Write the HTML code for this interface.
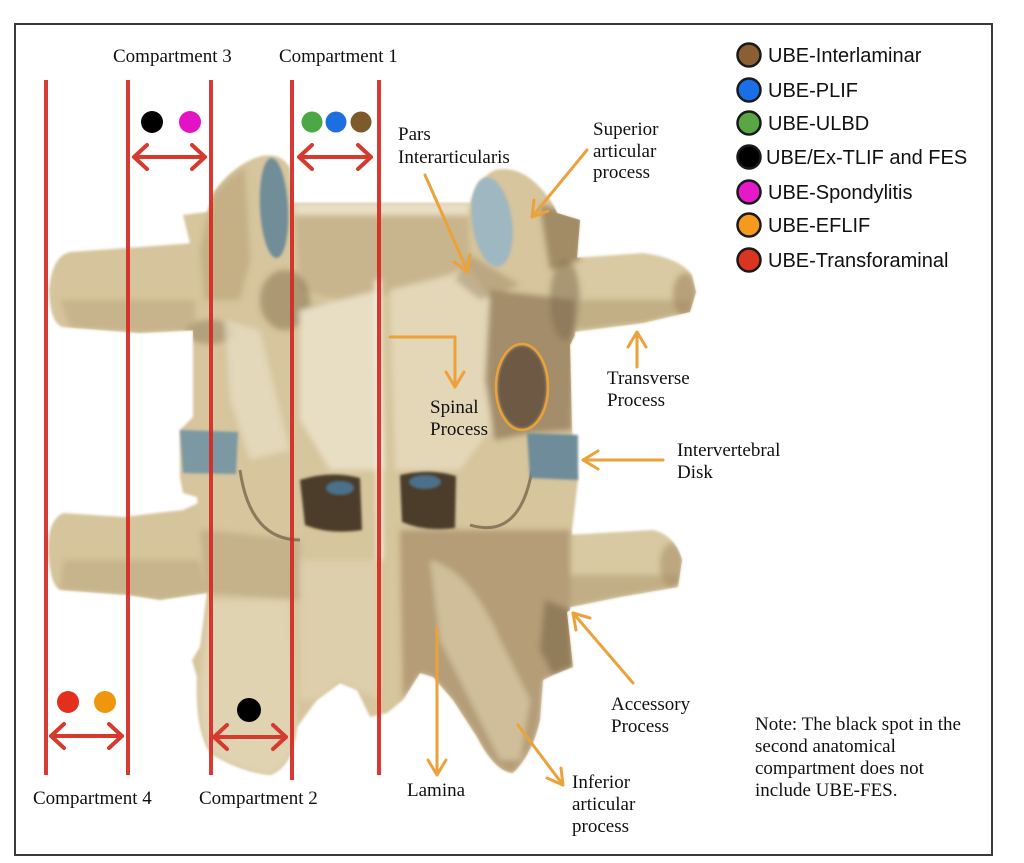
<!DOCTYPE html>
<html><head><meta charset="utf-8"><style>
html,body{margin:0;padding:0;background:#fff;}
svg{display:block;}
.s{font-family:"Liberation Serif",serif;font-size:19px;fill:#111;}
.l{font-family:"Liberation Sans",sans-serif;font-size:20px;fill:#111;}
</style></head><body>
<svg width="1024" height="863" viewBox="0 0 1024 863" xmlns="http://www.w3.org/2000/svg">
<defs>
<filter id="b3" x="-20%" y="-20%" width="140%" height="140%"><feGaussianBlur stdDeviation="3"/></filter>
<filter id="b1" x="-20%" y="-20%" width="140%" height="140%"><feGaussianBlur stdDeviation="1.2"/></filter>
<clipPath id="bone">
<path d="M190,243 L183,215 L207,212 L213,193 Q232,166 258,157 Q280,151 290,168 L293,203 L470,203 Q478,178 495,170 Q515,166 532,180 Q550,195 557,213 L580,220 L577,258 L575,335 L570,345 L572,430 L578,480 L572,530 L570,610 L567,612 L573,667 L553,675 L543,680 L540,720 Q532,755 513,773 Q495,772 477,737 L453,700 L433,677 L420,673 L403,700 L387,713 L370,717 L357,690 L340,683 L317,700 L297,727 Q293,767 270,775 Q240,772 210,753 Q195,730 197,677 L192,660 L200,647 L207,593 L197,497 L183,493 L180,477 L180,430 L193,417 L193,330 Z"/>
<path d="M195,243 L140,247 L70,252 Q52,256 49,290 Q50,322 62,327 L140,333 L198,330 Z"/>
<path d="M573,258 L643,253 Q680,258 692,275 L696,292 L690,312 L643,323 L573,332 Z"/>
<path d="M205,500 L183,510 L123,517 L63,513 Q48,520 48,550 Q50,585 60,590 L127,595 L160,600 L207,593 Z"/>
<path d="M566,535 L653,530 Q675,535 682,560 L678,587 L620,597 L566,608 Z"/>
</clipPath>
</defs>
<rect x="0" y="0" width="1024" height="863" fill="#fff"/>
<rect x="15" y="24" width="977" height="831" fill="#fff" stroke="#3a3a3a" stroke-width="2"/>

<g filter="url(#b1)">
<!-- transverse processes -->
<path d="M195,243 L140,247 L70,252 Q52,256 49,290 Q50,322 62,327 L140,333 L198,330 Z" fill="#d6c59c"/>
<path d="M573,258 L643,253 Q680,258 692,275 L696,292 L690,312 L643,323 L573,332 Z" fill="#d9caa3"/>
<path d="M205,500 L183,510 L123,517 L63,513 Q48,520 48,550 Q50,585 60,590 L127,595 L160,600 L207,593 Z" fill="#d6c59c"/>
<path d="M566,535 L653,530 Q675,535 682,560 L678,587 L620,597 L566,608 Z" fill="#d8c9a2"/>
<!-- main silhouette -->
<path d="M190,243 L183,215 L207,212 L213,193 Q232,166 258,157 Q280,151 290,168 L293,203 L470,203 Q478,178 495,170 Q515,166 532,180 Q550,195 557,213 L580,220 L577,258 L575,335 L570,345 L572,430 L578,480 L572,530 L570,610 L567,612 L573,667 L553,675 L543,680 L540,720 Q532,755 513,773 Q495,772 477,737 L453,700 L433,677 L420,673 L403,700 L387,713 L370,717 L357,690 L340,683 L317,700 L297,727 Q293,767 270,775 Q240,772 210,753 Q195,730 197,677 L192,660 L200,647 L207,593 L197,497 L183,493 L180,477 L180,430 L193,417 L193,330 Z" fill="#d6c59d"/>
</g>

<!-- shading (blurred, clipped to bone) -->
<g clip-path="url(#bone)">
<g filter="url(#b3)">
<path d="M293,203 L470,203 L468,215 L295,215 Z" fill="#e8dfc6"/>
<path d="M295,215 L468,215 L470,260 L430,290 L340,300 L300,290 Z" fill="#c5b089" opacity=".8"/>
<path d="M300,305 L370,300 L372,325 L300,325 Z" fill="#8f7a56" opacity=".45"/>
<path d="M213,195 Q230,175 245,168 L250,260 L240,300 L205,300 L200,250 Z" fill="#b9a277" opacity=".6"/>
<ellipse cx="285" cy="300" rx="25" ry="30" fill="#8a7452" opacity=".55"/>
<ellipse cx="210" cy="332" rx="25" ry="12" fill="#8a7452" opacity=".45"/>
<path d="M300,310 L380,290 L385,470 L330,470 L300,420 Z" fill="#e8dec4"/>
<path d="M225,320 L260,330 L290,450 L250,460 L230,400 Z" fill="#e6dcc0" opacity=".8"/>
<path d="M390,290 L470,270 L490,300 L490,430 L460,470 L395,470 Z" fill="#e3d7b8"/>
<path d="M490,290 L575,300 L572,430 L530,433 L495,440 L485,380 Z" fill="#9a8362" opacity=".85"/>
<path d="M540,205 L585,215 L580,260 L550,270 Z" fill="#8a7350" opacity=".7"/>
<path d="M470,255 L520,285 L480,300 L455,280 Z" fill="#9f8a66" opacity=".5"/>
<ellipse cx="565" cy="300" rx="15" ry="40" fill="#7e6a4c" opacity=".5"/>
<path d="M60,300 L195,300 L195,330 L140,333 L70,328 Z" fill="#b9a47c" opacity=".5"/>
<path d="M580,300 L690,300 L690,312 L643,323 L577,330 Z" fill="#b39c73" opacity=".6"/>
<ellipse cx="685" cy="295" rx="12" ry="22" fill="#a08660" opacity=".6"/>
<path d="M63,560 L200,560 L207,593 L160,600 L127,595 L60,590 Z" fill="#b9a47c" opacity=".5"/>
<path d="M570,575 L680,575 L678,587 L620,597 L570,608 Z" fill="#b39c73" opacity=".6"/>
<ellipse cx="672" cy="565" rx="12" ry="22" fill="#a08660" opacity=".5"/>
<path d="M200,530 L300,540 L300,600 L207,593 Z" fill="#b49e78" opacity=".5"/>
<path d="M400,530 L570,530 L570,610 L573,667 L543,680 L540,720 Q532,755 513,773 Q495,772 477,737 L453,700 L433,677 L420,673 L403,700 Z" fill="#a88f6b" opacity=".75"/>
<path d="M430,560 Q470,570 500,640 L530,700 L520,760 L500,760 L470,700 L440,640 Z" fill="#d6c7a1" opacity=".8"/>
<path d="M545,600 L570,610 L573,667 L553,675 L540,650 Z" fill="#8a7453" opacity=".8"/>
<path d="M210,600 L290,600 L297,727 Q293,767 270,775 Q240,772 210,753 Q197,730 200,680 Z" fill="#e2d6b6" opacity=".8"/>
<path d="M300,560 L380,560 L380,700 L340,683 L317,700 L300,700 Z" fill="#e0d3b0" opacity=".7"/>
<path d="M378,280 L380,560" stroke="#f2ecdc" stroke-width="6" fill="none"/>
</g>
<path d="M300,480 Q330,470 360,478 L362,530 Q330,535 305,525 Z" fill="#4c3c2a" filter="url(#b1)"/>
<path d="M400,475 Q430,468 456,476 L455,528 Q425,532 402,522 Z" fill="#4c3c2a" filter="url(#b1)"/>
<ellipse cx="340" cy="488" rx="14" ry="7" fill="#4b6f8c" filter="url(#b1)"/>
<ellipse cx="425" cy="482" rx="16" ry="7" fill="#4b6f8c" filter="url(#b1)"/>
<path d="M240,470 Q250,540 300,540" fill="none" stroke="#6e5a40" stroke-width="3" opacity=".7"/>
<path d="M470,525 Q520,540 532,470" fill="none" stroke="#6e5a40" stroke-width="3" opacity=".7"/>
<ellipse cx="522" cy="387" rx="24" ry="41" fill="#5e4d3b" opacity=".8" filter="url(#b1)"/>
</g>

<!-- facets and disks -->
<ellipse cx="274" cy="208" rx="14" ry="50" fill="#6f8d98" transform="rotate(-3 274 208)" filter="url(#b1)"/>
<ellipse cx="492" cy="222" rx="20" ry="45" fill="#9fb7c0" transform="rotate(-8 492 222)" filter="url(#b1)"/>
<path d="M180,430 L238,432 L236,474 L183,473 Z" fill="#7c98a3" filter="url(#b1)"/>
<path d="M527,433 L578,435 L578,480 L530,478 Z" fill="#6e8c99" filter="url(#b1)"/>

<!-- red compartment lines -->
<g stroke="#d42a24" stroke-width="4" opacity=".92" fill="none">
<line x1="46" y1="80" x2="46" y2="775"/>
<line x1="128" y1="80" x2="128" y2="775"/>
<line x1="211" y1="80" x2="211" y2="775"/>
<line x1="292" y1="80" x2="292" y2="780"/>
<line x1="379" y1="80" x2="379" y2="775"/>
</g>
<g stroke="#d63a2f" stroke-width="4" fill="none" stroke-linecap="round" stroke-linejoin="round">
<path d="M134,157 L205,157 M147,145 L134,157 L147,169 M192,145 L205,157 L192,169"/>
<path d="M299,157 L371,157 M312,145 L299,157 L312,169 M358,145 L371,157 L358,169"/>
<path d="M51,736 L122,736 M64,724 L51,736 L64,748 M109,724 L122,736 L109,748"/>
<path d="M214,737 L286,737 M227,725 L214,737 L227,749 M273,725 L286,737 L273,749"/>
</g>

<!-- dots -->
<circle cx="152" cy="122" r="11" fill="#000"/>
<circle cx="190" cy="122" r="11" fill="#e312c4"/>
<circle cx="312" cy="122" r="10.5" fill="#4ca844"/>
<circle cx="336" cy="122" r="10.5" fill="#1d6fe0"/>
<circle cx="361" cy="122" r="10.5" fill="#7d5a2a"/>
<circle cx="68" cy="702" r="11" fill="#e2301c"/>
<circle cx="105" cy="702" r="11" fill="#f0960e"/>
<circle cx="249" cy="710" r="12" fill="#000"/>

<!-- orange arrows -->
<g stroke="#eba23a" stroke-width="3" fill="none" stroke-linecap="round" stroke-linejoin="round">
<path d="M425,175 L468,272 M454,262 L468,272 L470,255"/>
<path d="M587,150 L532,217 M534,200 L532,217 L548,211"/>
<path d="M390,337 L455,337 L455,387 M446,372 L455,387 L464,372"/>
<path d="M637,367 L637,332 M628,347 L637,332 L646,347"/>
<path d="M663,460 L583,460 M598,451 L583,460 L598,469"/>
<path d="M633,683 L573,613 M590,618 L573,613 L576,630"/>
<path d="M437,628 L437,775 M428,760 L437,775 L446,760"/>
<path d="M518,725 L563,785 M547,778 L563,785 L561,768"/>
<ellipse cx="522" cy="387" rx="26" ry="43" stroke-width="2.5"/>
</g>

<!-- serif labels -->
<text class="s" x="113" y="62">Compartment 3</text>
<text class="s" x="279" y="62">Compartment 1</text>
<text class="s" x="33" y="804">Compartment 4</text>
<text class="s" x="199" y="804">Compartment 2</text>
<text class="s" x="407" y="796">Lamina</text>
<text class="s" x="398" y="140">Pars</text>
<text class="s" x="398" y="163">Interarticularis</text>
<text class="s" x="593" y="135">Superior</text>
<text class="s" x="593" y="157">articular</text>
<text class="s" x="593" y="178">process</text>
<text class="s" x="607" y="384">Transverse</text>
<text class="s" x="607" y="406">Process</text>
<text class="s" x="430" y="413">Spinal</text>
<text class="s" x="430" y="435">Process</text>
<text class="s" x="677" y="456">Intervertebral</text>
<text class="s" x="677" y="478">Disk</text>
<text class="s" x="611" y="710">Accessory</text>
<text class="s" x="611" y="732">Process</text>
<text class="s" x="572" y="788">Inferior</text>
<text class="s" x="572" y="810">articular</text>
<text class="s" x="572" y="832">process</text>
<text class="s" x="755" y="730">Note: The black spot in the</text>
<text class="s" x="755" y="752">second anatomical</text>
<text class="s" x="755" y="774">compartment does not</text>
<text class="s" x="755" y="796">include UBE-FES.</text>

<!-- legend -->
<g stroke="#1a1a1a" stroke-width="2.5">
<circle cx="749" cy="55" r="11.5" fill="#8b5e34"/>
<circle cx="749" cy="90" r="11.5" fill="#1a6fe6"/>
<circle cx="749" cy="123" r="11.5" fill="#5aa545"/>
<circle cx="749" cy="157" r="11.5" fill="#000"/>
<circle cx="749" cy="192" r="11.5" fill="#e619c8"/>
<circle cx="749" cy="225" r="11.5" fill="#f59a1c"/>
<circle cx="749" cy="260" r="11.5" fill="#d93520"/>
</g>
<text class="l" x="768" y="62">UBE-Interlaminar</text>
<text class="l" x="768" y="97">UBE-PLIF</text>
<text class="l" x="768" y="130">UBE-ULBD</text>
<text class="l" x="766" y="164">UBE/Ex-TLIF and FES</text>
<text class="l" x="768" y="199">UBE-Spondylitis</text>
<text class="l" x="768" y="232">UBE-EFLIF</text>
<text class="l" x="768" y="267">UBE-Transforaminal</text>
</svg>
</body></html>
